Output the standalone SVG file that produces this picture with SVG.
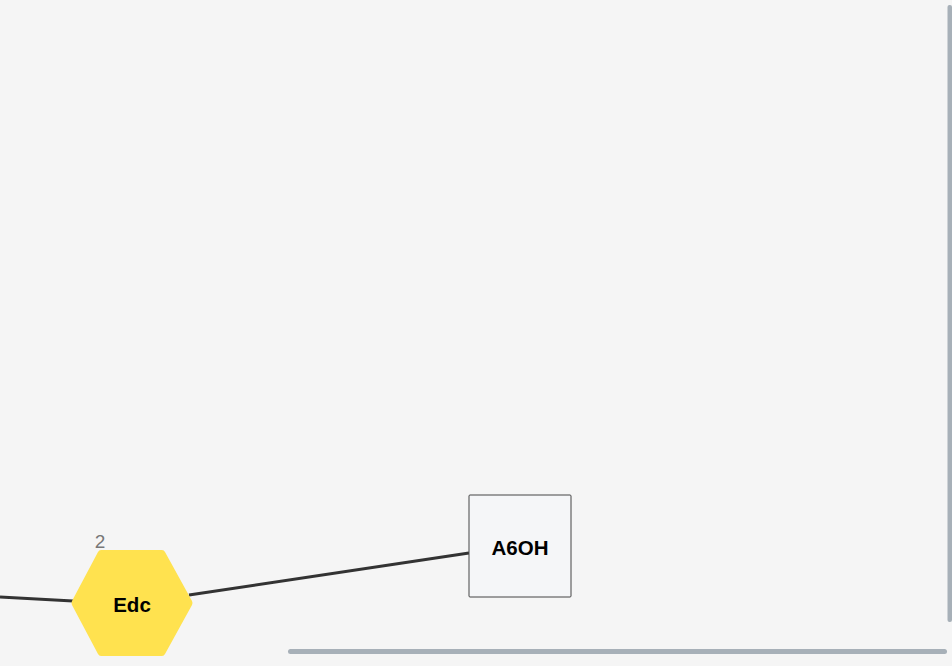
<svg xmlns="http://www.w3.org/2000/svg" width="952" height="666" viewBox="0 0 952 666">
<style>
.edge{stroke:#333;stroke-width:3;fill:none}
.lbl{font-family:"Liberation Sans",Arial,sans-serif;font-weight:bold;font-size:20.5px;fill:#000;text-anchor:middle}
.num{font-family:"Liberation Sans",Arial,sans-serif;font-size:19px;fill:#777;text-anchor:middle}
.sb{fill:#a7b0b8}
</style>
<rect x="0" y="0" width="952" height="666" fill="#f5f5f5"/>
<g id="connectors">
<path class="edge" d="M0,597 L73,601"/>
<path class="edge" d="M189,595 L469,553"/>
</g>
<g id="node-edc">
<path d="M101,550 L162,550 Q164,550 165,552 L192,601 Q193,603 192,605 L165,654 Q164,656 162,656 L101,656 Q99,656 98,654 L72,605 Q71,603 72,601 L98,552 Q99,550 101,550 Z" fill="#ffe24f"/>
<text class="num" x="100" y="548">2</text>
<text class="lbl" x="132" y="612">Edc</text>
</g>
<g id="node-a6oh">
<rect x="469" y="495" width="102" height="102" rx="1" fill="#f5f6f8" stroke="#444" stroke-width="1"/>
<text class="lbl" x="520" y="555">A6OH</text>
</g>
<rect class="sb" x="947.5" y="5" width="4.5" height="617" rx="2"/>
<rect class="sb" x="288" y="649" width="659" height="5" rx="2.5"/>
</svg>
